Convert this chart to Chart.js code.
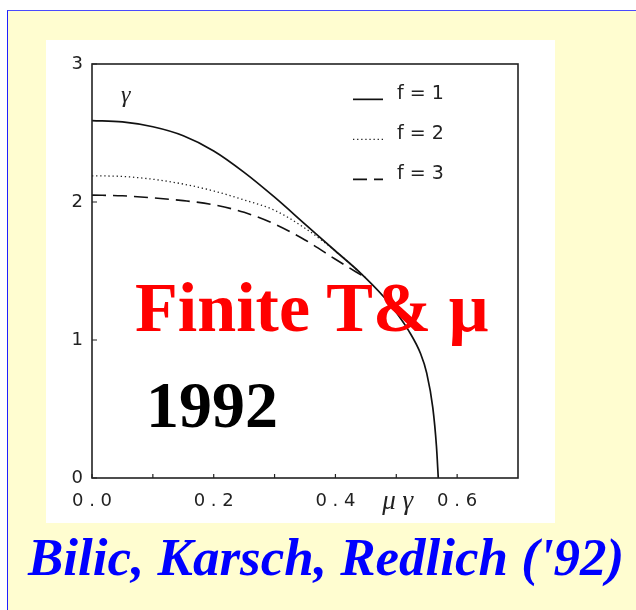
<!DOCTYPE html>
<html>
<head>
<meta charset="utf-8">
<script src="https://cdn.jsdelivr.net/npm/chart.js@4"></script>
<style>
  body { margin: 0; width: 636px; height: 610px; background: #fff; overflow: hidden; position: relative; }
  #slide { position: absolute; left: 7px; top: 10px; width: 700px; height: 700px;
           border-top: 1px solid #4a4aff; border-left: 1px solid #2020ff; background: #fffdd0; }
  #plot { position: absolute; left: 46px; top: 40px; width: 509px; height: 483px; background: #fff; }
  .big { position: absolute; font-family: "Liberation Serif", "Times New Roman", serif; font-weight: bold;
         line-height: 1; white-space: nowrap; }
  #title { left: 135px; top: 273px; font-size: 70px; color: #ff0000; }
  #year { left: 146px; top: 372px; font-size: 66px; color: #000; }
  #authors { left: 28px; top: 531px; font-size: 53px; font-style: italic; color: #0000ff; }
</style>
</head>
<body>
<div id="slide"></div>
<div id="plot"><canvas id="gammaChart"></canvas></div>
<div class="big" id="title">Finite T&amp; μ</div>
<div class="big" id="year">1992</div>
<div class="big" id="authors">Bilic, Karsch, Redlich ('92)</div>

<script>
// gamma vs mu*gamma for f = 1, 2, 3
const muF1 = [0, 0.05, 0.10, 0.15, 0.20, 0.25, 0.30, 0.35, 0.40, 0.44, 0.48, 0.50, 0.52, 0.54, 0.55, 0.56, 0.566, 0.569];
const gammaF1 = [2.59, 2.58, 2.545, 2.48, 2.37, 2.215, 2.035, 1.84, 1.645, 1.49, 1.31, 1.20, 1.07, 0.90, 0.76, 0.51, 0.23, 0];

const muF2 = [0, 0.05, 0.10, 0.15, 0.20, 0.25, 0.30, 0.35, 0.40, 0.45];
const gammaF2 = [2.19, 2.185, 2.165, 2.13, 2.08, 2.015, 1.94, 1.81, 1.645, 1.45];

const muF3 = [0, 0.05, 0.10, 0.15, 0.20, 0.25, 0.30, 0.35, 0.40, 0.45];
const gammaF3 = [2.05, 2.045, 2.03, 2.01, 1.98, 1.925, 1.84, 1.725, 1.585, 1.45];

const seriesLabels = ["f = 1", "f = 2", "f = 3"];
const xTickLabels = ["0.0", "0.2", "0.4", "0.6"];
const yTickLabels = ["0", "1", "2", "3"];
const xMinorTicks = [0.1, 0.3, 0.5];

const ink = "#222";
const plotterFont = { family: "DejaVu Sans", size: 18 };

function points(xs, ys) {
    return xs.map((x, i) => ({ x: x, y: ys[i] }));
}

// frame, inward tick marks, legend and axis symbols
const decorations = {
    id: "decorations",
    afterDatasetsDraw(chart) {
        const { ctx, chartArea: a, scales: { x, y } } = chart;
        ctx.save();
        ctx.strokeStyle = ink;
        ctx.lineWidth = 1.6;
        ctx.strokeRect(a.left, a.top, a.right - a.left, a.bottom - a.top);

        ctx.lineWidth = 1.2;
        ctx.beginPath();
        for (const t of xTickLabels.map(Number).concat(xMinorTicks)) {
            const px = x.getPixelForValue(t);
            ctx.moveTo(px, a.bottom);
            ctx.lineTo(px, a.bottom - 4);
        }
        for (const t of yTickLabels.map(Number)) {
            const py = y.getPixelForValue(t);
            ctx.moveTo(a.left, py);
            ctx.lineTo(a.left + 5, py);
        }
        ctx.stroke();

        // legend: line sample + label for each dataset
        ctx.font = "19px 'DejaVu Sans'";
        ctx.fillStyle = ink;
        ctx.textBaseline = "middle";
        chart.data.datasets.forEach((ds, i) => {
            const ly = y.getPixelForValue(2.78 - i * 0.29);
            ctx.strokeStyle = ds.borderColor;
            ctx.lineWidth = ds.borderWidth;
            ctx.setLineDash(ds.borderDash || []);
            ctx.beginPath();
            ctx.moveTo(a.left + 261, ly + 5);
            ctx.lineTo(a.left + 291, ly + 5);
            ctx.stroke();
            ctx.setLineDash([]);
            ctx.fillText(ds.label, a.left + 305, ly);
        });

        ctx.font = "italic 24px 'Liberation Serif'";
        ctx.fillText("γ", a.left + 29, y.getPixelForValue(2.77));
        ctx.font = "italic 27px 'Liberation Serif'";
        ctx.fillText("μ γ", x.getPixelForValue(0.477), a.bottom + 24);
        ctx.restore();
    }
};

const lineStyle = { cubicInterpolationMode: "monotone", pointRadius: 0, fill: false };

const chart = new Chart(document.getElementById("gammaChart"), {
    type: "line",
    data: {
        datasets: [{
            ...lineStyle,
            label: seriesLabels[0],
            data: points(muF1, gammaF1),
            borderColor: "#111",
            borderWidth: 1.7,
        }, {
            ...lineStyle,
            label: seriesLabels[1],
            data: points(muF2, gammaF2),
            borderColor: "#222",
            borderWidth: 1.3,
            borderDash: [1.3, 2.8],
        }, {
            ...lineStyle,
            label: seriesLabels[2],
            data: points(muF3, gammaF3),
            borderColor: "#111",
            borderWidth: 1.6,
            borderDash: [14, 7],
        }],
    },
    options: {
        responsive: true,
        maintainAspectRatio: false,
        animation: false,
        layout: { padding: { top: 24, right: 37, left: 0, bottom: 0 } },
        plugins: { legend: { display: false }, tooltip: { enabled: false } },
        scales: {
            x: {
                type: "linear",
                min: 0,
                max: 0.7,
                grid: { display: false, drawTicks: false },
                border: { display: false },
                afterFit(scale) { scale.height = 45; },
                ticks: {
                    stepSize: 0.1,
                    padding: 13,
                    maxRotation: 0,
                    autoSkip: false,
                    color: ink,
                    font: plotterFont,
                    callback(value) {
                        const label = xTickLabels.find(l => Math.abs(Number(l) - value) < 1e-6);
                        return label ? label.split("").join(" ") : "";
                    },
                },
            },
            y: {
                min: 0,
                max: 3,
                grid: { display: false, drawTicks: false },
                border: { display: false },
                afterFit(scale) { scale.width = 46; },
                ticks: {
                    stepSize: 1,
                    padding: 9,
                    color: ink,
                    font: plotterFont,
                    callback(value) {
                        return yTickLabels.includes(String(value)) ? String(value) : "";
                    },
                },
            },
        },
    },
    plugins: [decorations],
});
</script>
</body>
</html>
